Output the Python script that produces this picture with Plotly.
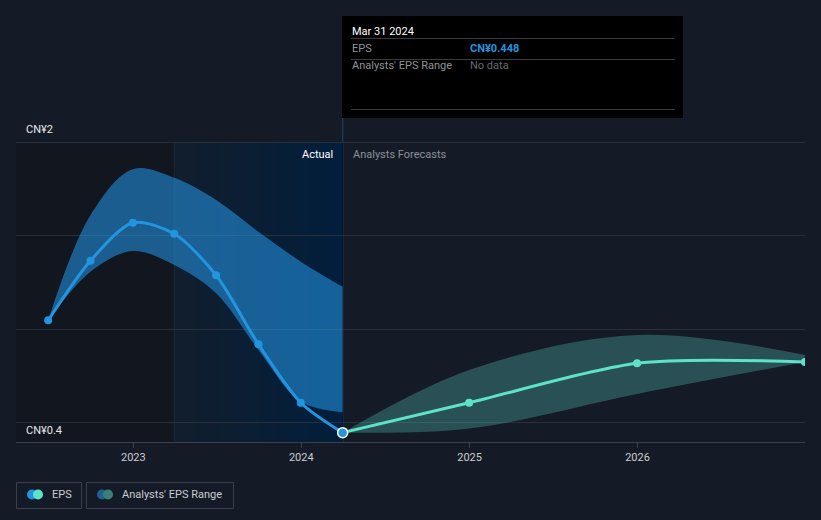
import plotly.graph_objects as go
import datetime as _dt

# ---------------- data ----------------
actual_dates = ["2022-06-30", "2022-09-30", "2022-12-31", "2023-03-31",
                "2023-06-30", "2023-09-30", "2023-12-31", "2024-03-31"]
actual_eps = [1.049, 1.367, 1.570, 1.511, 1.289, 0.920, 0.608, 0.448]
actual_range_high = [1.049, 1.611, 1.856, 1.810, 1.692, 1.522, 1.362, 1.228]
actual_range_low = [1.049, 1.308, 1.419, 1.344, 1.193, 0.890, 0.614, 0.557]

fc_dates = ["2024-03-31", "2024-12-31", "2025-12-31", "2026-12-31"]
fc_eps = [0.448, 0.608, 0.819, 0.826]
fc_high = [0.448, 0.783, 0.970, 0.863]
fc_low = [0.448, 0.470, 0.655, 0.826]

y_gridvals = [0.5, 1.0, 1.5, 2.0]
x_tickvals = ["2023-01-01", "2024-01-01", "2025-01-01", "2026-01-01"]
x_ticktext = ["2023", "2024", "2025", "2026"]

# ---------------- layout helpers ----------------
W, H = 821, 520
L, R, T, B = 16, 16, 138, 78
PW, PH = W - L - R, H - T - B
Y0 = 0.398
Y1 = Y0 + PH / 187.1
FONT = "Roboto"
BG = "#151b26"
BLUE = "#2394df"
TEAL = "#5de3c8"
GRID = "#2a303b"


def px_x(px):
    return (px - L) / PW


def px_y(py):
    return (H - B - py) / PH


fig = go.Figure()

# past band
fig.add_trace(go.Scatter(x=actual_dates, y=actual_range_high, mode="lines",
                         line=dict(width=0, shape="spline", smoothing=1.0),
                         hoverinfo="skip", showlegend=False))
fig.add_trace(go.Scatter(x=actual_dates, y=actual_range_low, mode="lines",
                         line=dict(width=0, shape="spline", smoothing=1.0),
                         fill="tonexty", fillcolor="rgba(36,150,230,0.56)",
                         hoverinfo="skip", showlegend=False))
# forecast band
fig.add_trace(go.Scatter(x=fc_dates, y=fc_high, mode="lines",
                         line=dict(width=0, shape="spline", smoothing=1.0),
                         hoverinfo="skip", showlegend=False))
fig.add_trace(go.Scatter(x=fc_dates, y=fc_low, mode="lines",
                         line=dict(width=0, shape="spline", smoothing=1.0),
                         fill="tonexty", fillcolor="rgba(90,210,195,0.30)",
                         hoverinfo="skip", showlegend=False))
# forecast line
fig.add_trace(go.Scatter(x=fc_dates, y=fc_eps, mode="lines+markers",
                         line=dict(color=TEAL, width=3, shape="spline", smoothing=0.8),
                         marker=dict(size=8, color=TEAL),
                         showlegend=False))
# actual line
fig.add_trace(go.Scatter(x=actual_dates, y=actual_eps, mode="lines+markers",
                         line=dict(color=BLUE, width=3, shape="spline", smoothing=0.8),
                         marker=dict(size=8, color=BLUE),
                         showlegend=False))
# highlighted point
fig.add_trace(go.Scatter(x=[actual_dates[-1]], y=[actual_eps[-1]], mode="markers",
                         marker=dict(size=10, color=BLUE, line=dict(color="white", width=1.5)),
                         showlegend=False))

shapes = []
# dark past region
shapes.append(dict(type="rect", xref="x", yref="y", x0="2022-04-21", x1="2024-03-31",
                   y0=Y0, y1=2.0, fillcolor="#11161f", line=dict(width=0), layer="below"))
# gradient last-year region (stacked rects, all ending at the present)
n = 16
d0 = _dt.datetime(2023, 3, 31)
d1 = _dt.datetime(2024, 3, 31)
span = (d1 - d0).total_seconds()
shapes.append(dict(type="rect", xref="x", yref="y", x0=d0.isoformat(), x1=d1.isoformat(),
                   y0=Y0, y1=2.0, fillcolor="rgba(25,90,150,0.12)", line=dict(width=0), layer="below"))
for i in range(1, n):
    a = d0 + _dt.timedelta(seconds=span * i / n)
    shapes.append(dict(type="rect", xref="x", yref="y", x0=a.isoformat(), x1=d1.isoformat(),
                       y0=Y0, y1=2.0, fillcolor="rgba(25,90,150,0.014)",
                       line=dict(width=0), layer="below"))
shapes.append(dict(type="line", xref="x", yref="y", x0="2023-03-31", x1="2023-03-31",
                   y0=Y0, y1=2.0, line=dict(color="#1a2838", width=1), layer="below"))
# present line
shapes.append(dict(type="line", xref="x", yref="paper", x0="2024-03-31", x1="2024-03-31",
                   y0=0, y1=px_y(118), line=dict(color="#22374f", width=1.5), layer="below"))
# tooltip box
shapes.append(dict(type="rect", xref="paper", yref="paper", x0=px_x(342), x1=px_x(683),
                   y0=px_y(118), y1=px_y(16), fillcolor="#000000", line=dict(width=0)))
for yy in (38.5, 59.5, 109.5):
    shapes.append(dict(type="line", xref="paper", yref="paper", x0=px_x(351), x1=px_x(675),
                       y0=px_y(yy), y1=px_y(yy), line=dict(color="#3a3a3a", width=1)))
# legend boxes
for x0, x1 in ((16.5, 81.5), (86.5, 233.5)):
    shapes.append(dict(type="rect", xref="paper", yref="paper", x0=px_x(x0), x1=px_x(x1),
                       y0=px_y(482.5), y1=px_y(508.5), line=dict(color="#3a404b", width=1),
                       fillcolor="rgba(0,0,0,0)"))


def circle(cx, cy, r, color):
    return dict(type="circle", xref="paper", yref="paper",
                x0=px_x(cx - r), x1=px_x(cx + r), y0=px_y(cy + r), y1=px_y(cy - r),
                fillcolor=color, line=dict(width=0))


shapes.append(circle(32, 494.5, 5, BLUE))
shapes.append(circle(38, 494.5, 5, TEAL))
shapes.append(circle(102, 494.5, 5, "#1f5f91"))
shapes.append(circle(108, 494.5, 5, "#3a8079"))

annotations = []


def text(px, py, s, color, size=11, anchor="left", weight="normal"):
    annotations.append(dict(xref="paper", yref="paper", x=px_x(px), y=px_y(py), text=s,
                            showarrow=False, xanchor=anchor, yanchor="middle",
                            font=dict(family=FONT, size=size, color=color, weight=weight)))


text(24, 130, "CN¥2", "#e6e8eb", 11)
text(24, 430, "CN¥0.4", "#e6e8eb", 11)
text(335, 154, "Actual", "#ffffff", 11, anchor="right")
text(351, 154, "Analysts Forecasts", "#8b9099", 11)
text(350, 31, "Mar 31 2024", "#ffffff", 11)
text(350, 48.5, "EPS", "#8e9299", 11)
text(468, 48.5, "CN¥0.448", BLUE, 11, weight="bold")
text(350, 66, "Analysts' EPS Range", "#8e9299", 11)
text(468, 66, "No data", "#666a70", 11)
text(50, 494.5, "EPS", "#c9ccd1", 11)
text(120, 494.5, "Analysts' EPS Range", "#c9ccd1", 11)

fig.update_layout(
    width=W, height=H,
    margin=dict(l=L, r=R, t=T, b=B),
    paper_bgcolor=BG, plot_bgcolor=BG,
    showlegend=False,
    shapes=shapes, annotations=annotations,
    font=dict(family=FONT, size=11, color="#c9ccd1"),
    xaxis=dict(type="date", range=["2022-04-21", "2026-12-31"],
               tickvals=x_tickvals, ticktext=x_ticktext,
               showgrid=False, zeroline=False,
               showline=True, linecolor="#3b414c", linewidth=1,
               ticks="outside", ticklen=5, tickcolor="#3b414c",
               tickfont=dict(family=FONT, size=11, color="#c9ccd1"),
               fixedrange=True),
    yaxis=dict(range=[Y0, Y1], tickvals=y_gridvals, showticklabels=False,
               showgrid=True, gridcolor=GRID, gridwidth=1,
               zeroline=False, showline=False, fixedrange=True),
    hovermode=False,
)

fig.write_html("out.html", config={"displayModeBar": False},
               post_script="document.body.style.margin='0';document.body.style.background='%s';" % BG)
